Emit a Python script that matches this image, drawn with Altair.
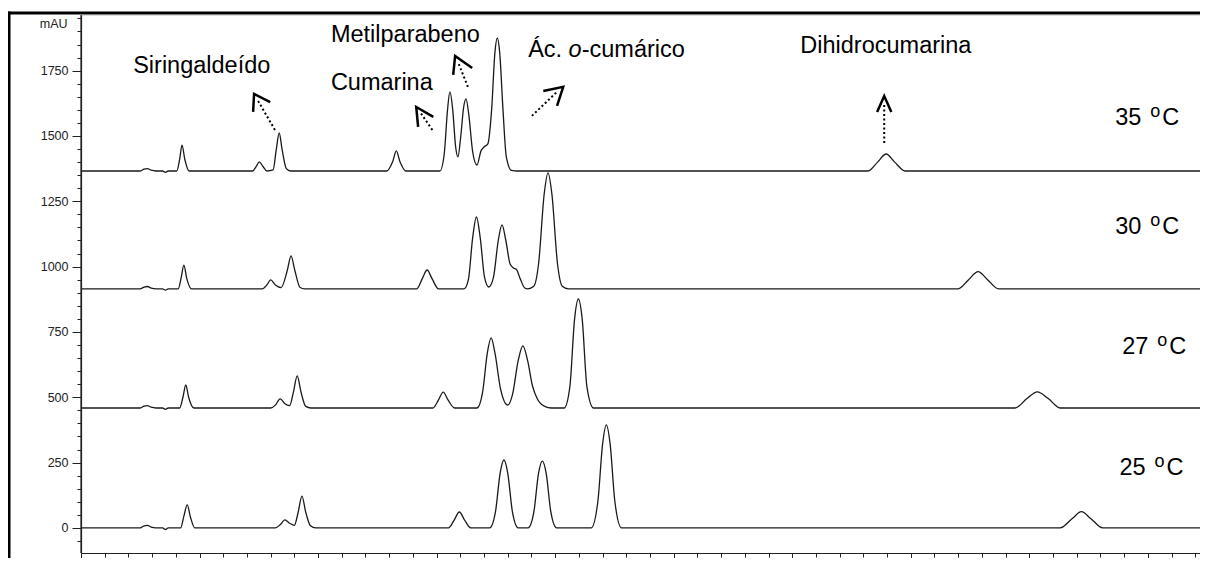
import altair as alt
import pandas as pd

# ---------------- chromatogram traces (time [min], signal [mAU]) ----------------
t25 = [0, 1.25, 1.33, 1.40, 1.48, 1.58, 1.72, 1.78, 1.84, 2.10, 2.17, 2.24, 2.31, 2.40,
       4.10, 4.20, 4.30, 4.40, 4.50, 4.58, 4.66, 4.74, 4.84, 4.95,
       7.75, 7.87, 7.98, 8.09, 8.22,
       8.62, 8.74, 8.84, 8.92, 9.00, 9.10, 9.22,
       9.43, 9.55, 9.65, 9.73, 9.81, 9.91, 10.03,
       10.76, 10.90, 11.00, 11.08, 11.16, 11.26, 11.40,
       20.65, 20.90, 21.10, 21.30, 21.55, 23.6]
v25 = [0, 0, 8, 10, 3, 0, 0, -6, 0, 0, 45, 88, 40, 0,
       0, 12, 31, 18, 10, 60, 122, 60, 8, 0,
       0, 30, 61, 30, 0,
       0, 60, 210, 260, 210, 60, 0,
       0, 60, 210, 256, 210, 60, 0,
       0, 100, 320, 394, 320, 100, 0,
       0, 35, 62, 35, 0, 0]

t27 = [0, 1.25, 1.33, 1.40, 1.48, 1.58, 1.72, 1.78, 1.84, 2.08, 2.15, 2.21, 2.27, 2.38,
       4.00, 4.10, 4.20, 4.30, 4.40, 4.48, 4.56, 4.64, 4.74, 4.85,
       7.42, 7.54, 7.64, 7.74, 7.88,
       8.35, 8.47, 8.57, 8.65, 8.73, 8.85, 9.00, 9.10, 9.22, 9.32, 9.42, 9.52, 9.62, 9.78, 9.92,
       10.19, 10.31, 10.41, 10.49, 10.57, 10.67, 10.81,
       19.70, 19.95, 20.17, 20.40, 20.65, 23.6]
v27 = [459, 459, 466, 468, 462, 459, 459, 454, 459, 459, 500, 547, 500, 459,
       459, 470, 494, 475, 468, 520, 582, 520, 465, 459,
       459, 490, 520, 490, 459,
       459, 520, 670, 727, 670, 530, 470, 510, 640, 697, 640, 545, 495, 465, 459,
       459, 540, 800, 876, 800, 540, 459,
       459, 495, 521, 495, 459, 459]

t30 = [0, 1.25, 1.33, 1.40, 1.48, 1.58, 1.72, 1.78, 1.84, 2.05, 2.11, 2.17, 2.23, 2.33,
       3.82, 3.92, 4.00, 4.10, 4.22, 4.35, 4.43, 4.51, 4.62, 4.72,
       7.08, 7.20, 7.30, 7.40, 7.54,
       8.08, 8.17, 8.26, 8.34, 8.42, 8.51, 8.60, 8.70, 8.80, 8.88, 8.96, 9.05, 9.12, 9.18, 9.26, 9.36, 9.42,
       9.55, 9.65, 9.77, 9.85, 9.93, 10.05, 10.15, 10.28,
       18.50, 18.72, 18.92, 19.12, 19.35, 23.6]
v30 = [915, 915, 922, 924, 918, 915, 915, 910, 915, 915, 955, 1006, 955, 915,
       915, 930, 949, 930, 920, 985, 1041, 985, 920, 915,
       915, 955, 987, 955, 915,
       915, 950, 1110, 1190, 1110, 960, 922, 960, 1100, 1160, 1100, 1010, 995, 990, 955, 918, 915,
       925, 1010, 1280, 1359, 1280, 1010, 925, 915,
       915, 950, 981, 950, 915, 915]

t35 = [0, 1.25, 1.33, 1.40, 1.48, 1.58, 1.72, 1.78, 1.84, 2.02, 2.08, 2.13, 2.19, 2.28,
       3.62, 3.70, 3.76, 3.83, 3.92, 4.05, 4.12, 4.18, 4.24, 4.33, 4.42,
       6.45, 6.57, 6.65, 6.73, 6.85,
       7.57, 7.66, 7.73, 7.78, 7.84, 7.90, 7.95, 8.01, 8.07, 8.12, 8.18, 8.26, 8.35, 8.44,
       8.50, 8.58, 8.66, 8.73, 8.78, 8.83, 8.90, 8.97, 9.08, 9.20,
       16.60, 16.80, 16.98, 17.16, 17.38, 23.6]
v35 = [1366, 1366, 1373, 1375, 1369, 1366, 1366, 1361, 1366, 1366, 1410, 1465, 1410, 1366,
       1366, 1385, 1401, 1385, 1366, 1370, 1450, 1512, 1450, 1375, 1366,
       1366, 1400, 1443, 1400, 1366,
       1366, 1430, 1600, 1669, 1600, 1460, 1420, 1500, 1610, 1642, 1580, 1440, 1389, 1445,
       1458, 1470, 1600, 1820, 1875, 1820, 1600, 1420, 1368, 1366,
       1366, 1400, 1431, 1400, 1366, 1366]

traces = {"25": (t25, v25), "27": (t27, v27), "30": (t30, v30), "35": (t35, v35)}

# ---------------- annotations ----------------
compound_names = ["Siringaldeído", "Metilparabeno", "Cumarina", "Dihidrocumarina"]
compound_t = [1.10, 5.27, 5.27, 15.17]
compound_v = [1741, 1860, 1676, 1818]

acido_parts = ["Ác. ", "o", "-cumárico"]
acido_t = 9.43
acido_v = 1802

temp_labels = ["35", "30", "27", "25"]
temp_t = [21.81, 21.81, 21.96, 21.90]
temp_v = [1542, 1125, 666, 203]

# dotted arrow shafts: tail -> head
shaft_tail_t = [4.09, 7.41, 8.16, 9.51, 16.94]
shaft_tail_v = [1523, 1523, 1688, 1577, 1473]
shaft_head_t = [3.71, 7.15, 7.95, 10.04, 16.94]
shaft_head_v = [1642, 1592, 1783, 1669, 1623]
# open arrow heads: arm, tip, arm
head_t = [[3.63, 3.65, 3.99], [7.11, 7.07, 7.43], [7.85, 7.89, 8.25],
          [9.75, 10.17, 10.04], [16.79, 16.94, 17.09]]
head_v = [[1592, 1661, 1630], [1535, 1611, 1573], [1734, 1806, 1760],
          [1672, 1688, 1615], [1592, 1653, 1592]]

# axis ticks
y_major = [0, 250, 500, 750, 1000, 1250, 1500, 1750]
y_minor = [v for v in range(-50, 1951, 50) if v % 250 != 0]
x_major = [0, 2.5, 5, 7.5, 10, 12.5, 15, 17.5, 20, 22.5]
x_minor = [i * 0.5 for i in range(0, 48) if (i * 0.5) % 2.5 != 0]

# ---------------- tables ----------------
rows = []
for name, (ts, vs) in traces.items():
    assert len(ts) == len(vs), name
    for t, v in zip(ts, vs):
        rows.append({"trace": name, "t": t, "mAU": v})
df = pd.DataFrame(rows)

shafts = []
for i in range(len(shaft_tail_t)):
    shafts.append({"id": i, "k": 0, "t": shaft_tail_t[i], "mAU": shaft_tail_v[i]})
    shafts.append({"id": i, "k": 1, "t": shaft_head_t[i], "mAU": shaft_head_v[i]})
shaft_df = pd.DataFrame(shafts)

heads = []
for i in range(len(head_t)):
    for k in range(3):
        heads.append({"id": i, "k": k, "t": head_t[i][k], "mAU": head_v[i][k]})
head_df = pd.DataFrame(heads)

comp_df = pd.DataFrame({"name": compound_names, "t": compound_t, "mAU": compound_v})
temp_df = pd.DataFrame({"lab": temp_labels, "t": temp_t, "mAU": temp_v})
acid_df = pd.DataFrame({"t": [acido_t], "mAU": [acido_v]})

FONT = "Liberation Sans"
FS = 23.5
XS = alt.Scale(domain=[0, 23.6], nice=False, zero=False)
YS = alt.Scale(domain=[-96, 1963], nice=False, zero=False)
AXCOL = "#222222"

x_major_axis = alt.Axis(values=x_major, orient="bottom", tickSize=8, tickColor=AXCOL,
                        domainColor=AXCOL, domainWidth=1.2, labelFont=FONT, labelFontSize=12.5,
                        labelColor="#222222", labelPadding=2, grid=False, title=None,
                        labelExpr="'' + datum.value")
y_major_axis = alt.Axis(values=y_major, orient="left", tickSize=9, tickColor=AXCOL,
                        domainColor=AXCOL, domainWidth=1.2, labelFont=FONT, labelFontSize=12.5,
                        labelColor="#222222", labelPadding=4, grid=False,
                        labelExpr="'' + datum.value",
                        title="mAU", titleAngle=0, titleAlign="right", titleBaseline="middle",
                        titleX=-14, titleY=8, titleFont=FONT, titleFontSize=12.5,
                        titleFontWeight="normal", titleColor="#222222")
x_minor_axis = alt.Axis(values=x_minor, orient="bottom", tickSize=4, tickColor=AXCOL,
                        domain=False, labels=False, grid=False, title=None)
y_minor_axis = alt.Axis(values=y_minor, orient="left", tickSize=4, tickColor=AXCOL,
                        domain=False, labels=False, grid=False, title=None)

lines = alt.Chart(df).mark_line(color="#1a1a1a", strokeWidth=1.3, interpolate="monotone").encode(
    x=alt.X("t:Q", scale=XS, axis=x_major_axis),
    y=alt.Y("mAU:Q", scale=YS, axis=y_major_axis),
    detail="trace:N",
)

minor = alt.Chart(df).mark_line(opacity=0).encode(
    x=alt.X("t:Q", scale=XS, axis=x_minor_axis),
    y=alt.Y("mAU:Q", scale=YS, axis=y_minor_axis),
    detail="trace:N",
)

shaft_layer = alt.Chart(shaft_df).mark_line(color="black", strokeWidth=2, strokeDash=[2, 2.5]).encode(
    x=alt.X("t:Q", scale=XS, axis=None),
    y=alt.Y("mAU:Q", scale=YS, axis=None),
    detail="id:N", order="k:Q",
)
head_layer = alt.Chart(head_df).mark_line(color="black", strokeWidth=2.5, strokeJoin="miter").encode(
    x=alt.X("t:Q", scale=XS, axis=None),
    y=alt.Y("mAU:Q", scale=YS, axis=None),
    detail="id:N", order="k:Q",
)

comp_text = alt.Chart(comp_df).mark_text(font=FONT, fontSize=FS, align="left",
                                         baseline="alphabetic", color="black").encode(
    x=alt.X("t:Q", scale=XS, axis=None),
    y=alt.Y("mAU:Q", scale=YS, axis=None),
    text="name:N",
)

acid_layers = []
offsets = [0, 1.723 * FS, 2.279 * FS]
styles = ["normal", "italic", "normal"]
for part, dx, st in zip(acido_parts, offsets, styles):
    acid_layers.append(
        alt.Chart(acid_df).mark_text(font=FONT, fontSize=FS, align="left", baseline="alphabetic",
                                     color="black", dx=dx, fontStyle=st, text=part).encode(
            x=alt.X("t:Q", scale=XS, axis=None),
            y=alt.Y("mAU:Q", scale=YS, axis=None),
        )
    )

temp_num = alt.Chart(temp_df).mark_text(font=FONT, fontSize=FS, align="left",
                                        baseline="alphabetic", color="black").encode(
    x=alt.X("t:Q", scale=XS, axis=None),
    y=alt.Y("mAU:Q", scale=YS, axis=None),
    text="lab:N",
)
temp_o = alt.Chart(temp_df).mark_text(font=FONT, fontSize=18, align="left", baseline="alphabetic",
                                      color="black", dx=35, dy=-8, text="o").encode(
    x=alt.X("t:Q", scale=XS, axis=None),
    y=alt.Y("mAU:Q", scale=YS, axis=None),
)
temp_c = alt.Chart(temp_df).mark_text(font=FONT, fontSize=FS, align="left", baseline="alphabetic",
                                      color="black", dx=47, text="C").encode(
    x=alt.X("t:Q", scale=XS, axis=None),
    y=alt.Y("mAU:Q", scale=YS, axis=None),
)

frame_df = pd.DataFrame({"a": [0]})
frame_left = alt.Chart(frame_df).mark_rule(color="black", strokeWidth=3).encode(
    x=alt.value(-72), y=alt.value(-3.5), y2=alt.value(560))
frame_top = alt.Chart(frame_df).mark_rule(color="black", strokeWidth=3).encode(
    x=alt.value(-73.5), x2=alt.value(1125), y=alt.value(-2))
y_axis_line = alt.Chart(frame_df).mark_rule(color=AXCOL, strokeWidth=1.2).encode(
    x=alt.value(0), y=alt.value(0), y2=alt.value(538))

chart = alt.layer(
    minor, lines, shaft_layer, head_layer, comp_text, *acid_layers, temp_num, temp_o, temp_c,
    frame_left, frame_top, y_axis_line,
).resolve_axis(x="independent", y="independent").properties(
    width=1119, height=538,
    autosize=alt.AutoSizeParams(type="none"),
    padding={"left": 73, "top": 7, "right": 0, "bottom": 5},
).configure_view(stroke=None).configure(background="white")

chart.save("out.html", embed_options={"renderer": "svg", "actions": False})
